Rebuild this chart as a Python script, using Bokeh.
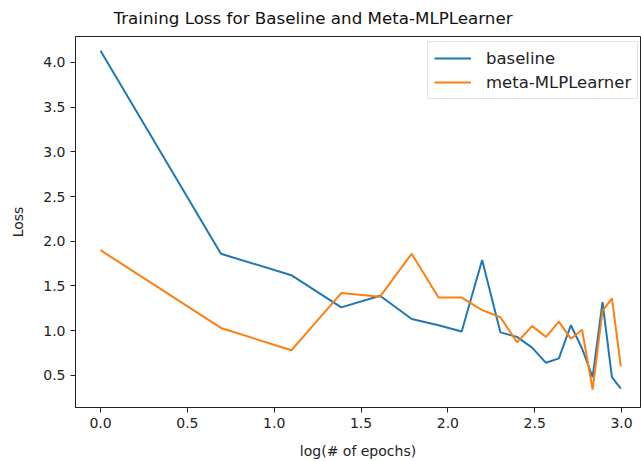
import numpy as np
from bokeh.plotting import figure
from bokeh.models import Range1d, FixedTicker, PrintfTickFormatter, Legend, LegendItem, Title
from bokeh.embed import file_html
from bokeh.resources import INLINE

epochs = list(range(1, 21))
log_epochs = np.log(epochs)
baseline = [4.13, 1.86, 1.62, 1.26, 1.39, 1.13, 1.06, 0.99, 1.79, 0.98,
            0.93, 0.81, 0.64, 0.69, 1.06, 0.80, 0.48, 1.32, 0.48, 0.35]
meta = [1.90, 1.03, 0.78, 1.42, 1.38, 1.86, 1.37, 1.37, 1.23, 1.15,
        0.87, 1.05, 0.93, 1.10, 0.91, 1.01, 0.34, 1.22, 1.36, 0.60]
x_ticks = [0.0, 0.5, 1.0, 1.5, 2.0, 2.5, 3.0]
y_ticks = [0.5, 1.0, 1.5, 2.0, 2.5, 3.0, 3.5, 4.0]
title_text = "Training Loss for Baseline and Meta-MLPLearner"

FONT = "DejaVu Sans"

p = figure(width=641, height=461, output_backend="svg", toolbar_location=None,
           x_range=Range1d(-0.144, 3.109), y_range=Range1d(0.14, 4.29),
           min_border_left=75, min_border_right=1, min_border_top=35, min_border_bottom=54)
p.title = Title(text=title_text, align="left", offset=38, standoff=14, vertical_align="top",
                text_font=FONT, text_font_size="16.7px", text_font_style="normal", text_color="#111111")
p.xgrid.visible = False
p.ygrid.visible = False
p.outline_line_color = "#222222"
p.outline_line_width = 1

r1 = p.line(log_epochs, baseline, line_color="#1f77b4", line_width=2)
r2 = p.line(log_epochs, meta, line_color="#ff7f0e", line_width=2)

for ax, ticks in ((p.xaxis[0], x_ticks), (p.yaxis[0], y_ticks)):
    ax.ticker = FixedTicker(ticks=ticks)
    ax.formatter = PrintfTickFormatter(format="%.1f")
    ax.major_tick_out = 5
    ax.major_tick_in = 0
    ax.minor_tick_line_color = None
    ax.axis_line_color = "#222222"
    ax.major_tick_line_color = "#222222"
    ax.major_label_text_font = FONT
    ax.major_label_text_font_size = "14px"
    ax.major_label_text_color = "#222222"
    ax.axis_label_text_font = FONT
    ax.axis_label_text_font_size = "14px"
    ax.axis_label_text_font_style = "normal"
    ax.axis_label_text_color = "#222222"
    ax.major_label_standoff = 5

p.xaxis[0].axis_label = "log(# of epochs)"
p.yaxis[0].axis_label = "Loss"
p.xaxis[0].axis_label_standoff = 12
p.yaxis[0].axis_label_standoff = 14

legend = Legend(items=[LegendItem(label="baseline", renderers=[r1]),
                       LegendItem(label="meta-MLPLearner", renderers=[r2])],
                location=(352, 308), padding=6, spacing=4, glyph_width=37, glyph_height=20,
                label_height=20, label_standoff=15, margin=0,
                label_text_font=FONT, label_text_font_size="16.5px", label_text_color="#222222",
                border_line_color="#cccccc", border_line_width=1, background_fill_alpha=0.8)
p.add_layout(legend)

open("out.html", "w").write(file_html(p, INLINE))
